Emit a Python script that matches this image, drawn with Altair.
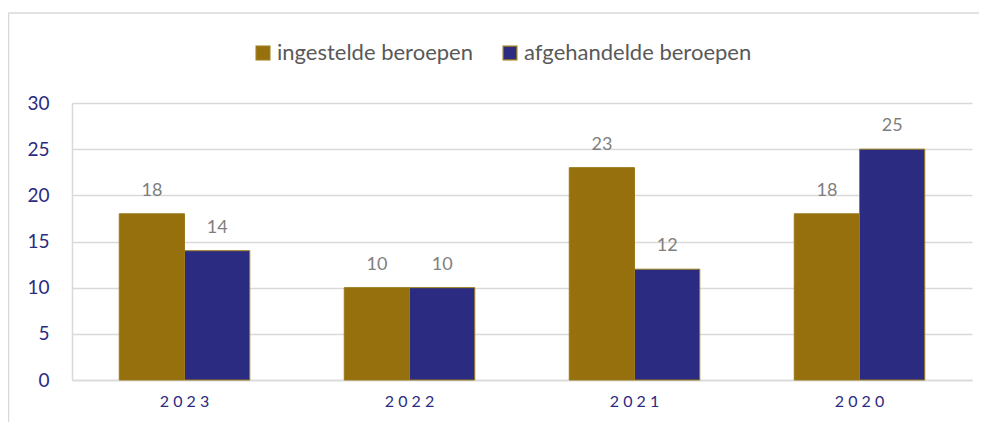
import altair as alt
import pandas as pd

years = ["2023", "2022", "2021", "2020"]
ingestelde = [18, 10, 23, 18]
afgehandelde = [14, 10, 12, 25]
series = ["ingestelde beroepen", "afgehandelde beroepen"]
colors = ["#95700C", "#2B2B82"]

rows = []
for y, a, b in zip(years, ingestelde, afgehandelde):
    rows.append({"jaar": y, "reeks": series[0], "waarde": a})
    rows.append({"jaar": y, "reeks": series[1], "waarde": b})
df = pd.DataFrame(rows)

FONT = "Lato"

x = alt.X("jaar:N", sort=years, title=None,
          scale=alt.Scale(paddingInner=0.42, paddingOuter=0.21),
          axis=alt.Axis(labelAngle=0, labelColor="#2B2B82", labelFontSize=16,
                        labelFont=FONT, labelPadding=13, ticks=False,
                        domainColor="#D9D9D9", domainWidth=1.5,
                        labelExpr="join(split(datum.label, ''), ' ')"))
xo = alt.XOffset("reeks:N", sort=series)
y = alt.Y("waarde:Q", title=None,
          scale=alt.Scale(domain=[0, 30], nice=False),
          axis=alt.Axis(values=[0, 5, 10, 15, 20, 25, 30], labelColor="#2B2B82",
                        labelFontSize=19, labelFont=FONT, labelPadding=23,
                        ticks=False, gridColor="#D9D9D9", gridWidth=1.5,
                        domainColor="#D9D9D9", domainWidth=1.5))
color = alt.Color("reeks:N", sort=series,
                  scale=alt.Scale(domain=series, range=colors),
                  legend=alt.Legend(title=None, orient="none", direction="horizontal",
                                    legendX=180, legendY=-61, symbolType="square",
                                    symbolSize=190, symbolStrokeColor="#9A7A1A",
                                    symbolStrokeWidth=1.2, labelFont=FONT,
                                    labelFontSize=22, labelColor="#595959",
                                    labelLimit=0, columnPadding=26, labelOffset=3))

one = pd.DataFrame({"k": [0]})
frame_top = alt.Chart(one).mark_rule(stroke="#D9D9D9", strokeWidth=1.5).encode(
    x=alt.value(-63.5), x2=alt.value(920), y=alt.value(-90))
frame_left = alt.Chart(one).mark_rule(stroke="#D9D9D9", strokeWidth=1.5).encode(
    x=alt.value(-63.5), y=alt.value(-90), y2=alt.value(400))

bars = alt.Chart(df).mark_bar(stroke="#9A7A1A", strokeWidth=1).encode(
    x=x, xOffset=xo, y=y, color=color)

labels = alt.Chart(df).mark_text(
    baseline="bottom", dy=-14, font=FONT, fontSize=18, color="#7F7F7F"
).encode(x=x, xOffset=xo, y=y, text=alt.Text("waarde:Q"))

chart = alt.layer(frame_top, frame_left, bars, labels).properties(
    width=900, height=277,
    autosize=alt.AutoSizeParams(type="none"),
    padding={"left": 64, "top": 95, "right": 7, "bottom": 42},
).configure(background="white", view=alt.ViewConfig(stroke=None))

chart.save("out.html", embed_options={"renderer": "svg", "actions": False})
